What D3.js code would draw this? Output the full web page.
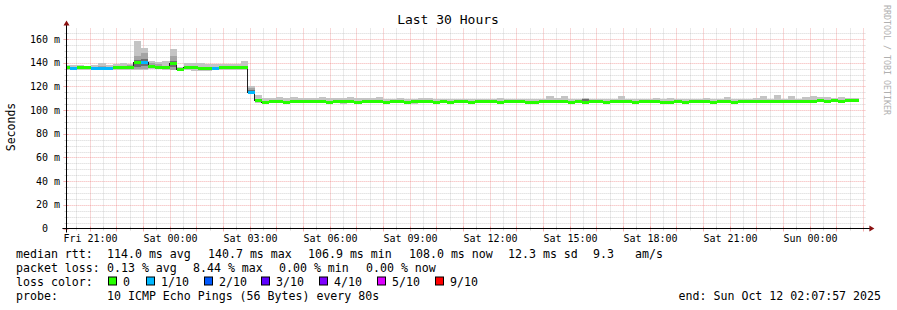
<!DOCTYPE html>
<html>
<head>
<meta charset="utf-8">
<script src="https://cdn.jsdelivr.net/npm/d3@7"></script>
<style>
  body { margin: 0; background: #fff; }
  text { font-family: "DejaVu Sans Mono", monospace; fill: #000; }
</style>
</head>
<body>
<div id="chart"></div>
<script>
'use strict';

// ---- data ----
var titleText = 'Last 30 Hours';
var startTime = new Date(Date.UTC(2025, 9, 10, 20, 7, 57));
var endTime = new Date(Date.UTC(2025, 9, 12, 2, 7, 57));
var firstBin = new Date(Date.UTC(2025, 9, 10, 20, 0, 0));
var binMinutes = 16;

var medianMs = [
  135.6, 134.8, 135.6, 135.6, 135.2, 135.2, 135.2, 135.6, 135.6, 135.6,
  140.0, 140.0, 136.5, 135.8, 135.6, 139.2, 134.4, 135.6, 135.6, 135.0,
  134.8, 135.2, 135.6, 135.6, 135.6, 135.6, 115.0, 107.7, 106.6, 107.0,
  107.4, 106.8, 107.0, 107.0, 107.2, 107.0, 107.0, 106.6, 107.0, 107.2,
  107.0, 106.6, 107.0, 107.0, 107.0, 106.8, 107.0, 107.0, 106.6, 107.0,
  107.4, 107.0, 106.8, 107.0, 106.8, 107.0, 107.0, 106.8, 107.0, 107.0,
  107.0, 106.8, 107.0, 107.0, 107.0, 106.8, 106.8, 107.0, 107.0, 107.2,
  107.0, 106.8, 107.0, 106.6, 107.0, 107.0, 106.8, 107.4, 107.0, 107.0,
  106.8, 107.0, 107.0, 107.0, 106.4, 106.6, 107.0, 106.4, 107.0, 107.0,
  107.0, 106.8, 107.0, 107.0, 106.8, 107.0, 107.0, 107.2, 107.0, 107.0,
  107.2, 107.0, 107.0, 107.0, 107.6, 107.6, 107.8, 107.6, 107.8, 107.6,
  107.8, 108.0
];

var lossTenths = [
  0, 1, 0, 0, 1, 1, 1, 0, 0, 0,
  0, 1, 0, 0, 0, 0, 0, 0, 0, 0,
  0, 1, 0, 0, 0, 0, 1, 0, 0, 0,
  0, 0, 0, 0, 0, 0, 0, 0, 0, 0,
  0, 0, 0, 0, 0, 0, 0, 0, 0, 0,
  0, 0, 0, 0, 0, 0, 0, 0, 0, 0,
  0, 0, 0, 0, 0, 0, 0, 0, 0, 0,
  0, 0, 0, 0, 0, 0, 0, 0, 0, 0,
  0, 0, 0, 0, 0, 0, 0, 0, 0, 0,
  0, 0, 0, 0, 0, 0, 0, 0, 0, 0,
  0, 0, 0, 0, 0, 0, 0, 0, 0, 0,
  0, 0
];

var smokeHi = [
  138.4, 138.4, 138.4, 137.6, 138.4, 139.8, 138.4, 139.2, 139.8, 139.2,
  158.3, 152.4, 141.5, 140.6, 141.5, 151.6, 136.6, 139.8, 139.8, 139.8,
  139.2, 139.2, 139.2, 139.2, 138.8, 141.3, 120.0, 112.8, 110.6, 110.6,
  111.1, 110.2, 111.1, 109.8, 109.8, 109.8, 111.1, 109.8, 109.8, 109.8,
  110.8, 109.8, 109.8, 109.8, 111.1, 109.5, 109.2, 109.8, 109.3, 109.3,
  109.8, 109.8, 109.5, 109.5, 109.6, 109.6, 109.6, 109.6, 109.6, 109.6,
  109.6, 110.6, 109.6, 109.6, 109.6, 109.6, 109.2, 109.2, 112.3, 110.6,
  111.5, 109.6, 109.6, 110.0, 109.6, 109.6, 109.2, 109.6, 111.5, 109.6,
  109.6, 109.6, 109.6, 110.6, 109.6, 110.6, 109.6, 109.6, 109.0, 109.0,
  110.6, 109.6, 109.6, 111.4, 109.6, 109.6, 109.6, 110.6, 112.3, 109.6,
  112.8, 109.6, 112.3, 109.6, 111.4, 112.3, 111.4, 111.4, 110.0, 111.4,
  110.6, 110.6
];

var smokeLo = [
  134.2, 133.8, 134.2, 134.2, 133.8, 133.8, 133.8, 134.2, 134.2, 134.2,
  134.0, 134.0, 135.0, 134.6, 134.2, 133.6, 133.0, 134.0, 133.4, 133.2,
  133.2, 133.8, 134.2, 134.2, 134.2, 134.2, 113.5, 106.0, 105.3, 105.8,
  106.0, 105.2, 105.8, 105.8, 105.6, 105.8, 105.8, 105.6, 105.8, 105.2,
  105.8, 105.2, 105.8, 105.8, 105.8, 105.6, 105.8, 105.8, 105.6, 105.2,
  106.0, 105.8, 105.6, 105.8, 105.6, 105.8, 105.8, 105.6, 105.8, 105.8,
  105.8, 105.6, 105.8, 105.8, 105.8, 105.6, 105.6, 105.8, 105.8, 106.0,
  105.8, 105.6, 105.8, 105.4, 105.8, 105.8, 105.6, 106.0, 105.8, 105.8,
  105.6, 105.8, 105.8, 105.8, 105.0, 105.4, 105.8, 105.0, 105.8, 105.8,
  105.8, 105.6, 105.8, 105.8, 105.6, 105.8, 105.8, 106.0, 105.8, 105.8,
  106.0, 105.8, 105.8, 105.8, 106.4, 106.4, 106.6, 106.4, 106.6, 106.4,
  106.6, 106.8
];

// inner smoke layers: [bin, low ms, high ms]
var midSmoke = [
  [5, 134.4, 137.4], [9, 134.4, 137.8], [10, 134.5, 146.0], [11, 134.5, 148.0],
  [12, 135.2, 139.5], [13, 135.0, 138.5], [15, 134.0, 145.4], [26, 114.0, 118.5]
];
var darkSmoke = [
  [10, 136.6, 142.6], [11, 137.0, 143.0], [15, 136.4, 141.8], [26, 114.5, 117.2],
  [73, 107.6, 109.4], [100, 107.6, 108.8]
];

var yTickValues = [0, 20, 40, 60, 80, 100, 120, 140, 160];
var rttLabel = 'median rtt:';
var rttStats = ['114.0 ms avg', '140.7 ms max', '106.9 ms min', '108.0 ms now', '12.3 ms sd', '9.3', 'am/s'];
var lossLabel = 'packet loss:';
var lossStats = ['0.13 % avg', '8.44 % max', '0.00 % min', '0.00 % now'];
var colorLabel = 'loss color:';
var lossLegendLabels = ['0', '1/10', '2/10', '3/10', '4/10', '5/10', '9/10'];
var lossLegendTenths = [0, 1, 2, 3, 4, 5, 9];
var probeLabel = 'probe:';
var probeText = '10 ICMP Echo Pings (56 Bytes) every 80s';
var endText = 'end: Sun Oct 12 02:07:57 2025';
var watermark = 'RRDTOOL / TOBI OETIKER';

// ---- styles / layout ----
var lossColors = {0: '#26ff00', 1: '#00b8ff', 2: '#0059ff', 3: '#5e00ff', 4: '#7e00ff', 5: '#dd00ff', 9: '#ff0000'};
var W = 897, H = 310;
var plot = {left: 66.4, right: 866.4, top: 28.5, bottom: 228.5};
var rttX = [107, 208, 308, 409, 508, 593, 635];
var lossX = [107, 193, 279, 366];
var boxX = [108, 146, 204, 261, 319, 377, 435];
var rowY = [257.5, 271.5, 285.5, 299.5];
var minorColor = 'rgba(150,150,150,0.4)';
var majorColor = 'rgba(235,110,110,0.55)';

var bins = medianMs.map(function(m, i) {
  var t0 = new Date(firstBin.getTime() + i * binMinutes * 60000);
  return {
    i: i,
    t0: t0,
    t1: new Date(t0.getTime() + binMinutes * 60000),
    median: m,
    loss: lossTenths[i],
    hi: smokeHi[i],
    lo: smokeLo[i]
  };
});

var x = d3.scaleUtc().domain([startTime, endTime]).range([plot.left, plot.right]);
var y = d3.scaleLinear().domain([0, 168.9]).range([plot.bottom, plot.top]);

var svg = d3.select('#chart').append('svg')
  .attr('width', W)
  .attr('height', H)
  .style('display', 'block');

svg.append('rect').attr('width', W).attr('height', H).attr('fill', '#fff');

var px = function(v) { return Math.round(v) + 0.5; };

// ---- grid ----
var grid = svg.append('g');
var minorY = d3.range(5, 169, 5).filter(function(v) { return v % 20 !== 0; });
var majorY = d3.range(20, 169, 20);
var minorX = d3.utcMinute.every(30).range(startTime, endTime).filter(function(d) { return d.getUTCMinutes() === 30; });
var majorX = d3.utcHour.range(startTime, endTime);

grid.selectAll('.minor-h').data(minorY).enter().append('line')
  .attr('x1', plot.left).attr('x2', plot.right)
  .attr('y1', function(d) { return px(y(d)); }).attr('y2', function(d) { return px(y(d)); })
  .attr('stroke', minorColor).attr('stroke-dasharray', '1,1');
grid.selectAll('.minor-v').data(minorX).enter().append('line')
  .attr('x1', function(d) { return px(x(d)); }).attr('x2', function(d) { return px(x(d)); })
  .attr('y1', plot.top).attr('y2', plot.bottom)
  .attr('stroke', minorColor).attr('stroke-dasharray', '1,1');
grid.selectAll('.major-h').data(majorY).enter().append('line')
  .attr('x1', plot.left).attr('x2', plot.right)
  .attr('y1', function(d) { return px(y(d)); }).attr('y2', function(d) { return px(y(d)); })
  .attr('stroke', majorColor).attr('stroke-dasharray', '1,1');
grid.selectAll('.major-v').data(majorX).enter().append('line')
  .attr('x1', function(d) { return px(x(d)); }).attr('x2', function(d) { return px(x(d)); })
  .attr('y1', plot.top).attr('y2', plot.bottom)
  .attr('stroke', majorColor).attr('stroke-dasharray', '1,1');

// ---- data marks ----
svg.append('clipPath').attr('id', 'clip').append('rect')
  .attr('x', plot.left).attr('y', plot.top)
  .attr('width', plot.right - plot.left).attr('height', plot.bottom - plot.top);

var marks = svg.append('g').attr('clip-path', 'url(#clip)');

marks.selectAll('.smoke').data(bins).enter().append('rect')
  .attr('x', function(d) { return x(d.t0); })
  .attr('width', function(d) { return x(d.t1) - x(d.t0); })
  .attr('y', function(d) { return y(d.hi); })
  .attr('height', function(d) { return y(d.lo) - y(d.hi); })
  .attr('fill', '#c4c4c4')
  .attr('shape-rendering', 'crispEdges');

function layer(list, color) {
  marks.selectAll(null).data(list).enter().append('rect')
    .attr('x', function(d) { return x(bins[d[0]].t0); })
    .attr('width', function(d) { return x(bins[d[0]].t1) - x(bins[d[0]].t0); })
    .attr('y', function(d) { return y(d[2]); })
    .attr('height', function(d) { return y(d[1]) - y(d[2]); })
    .attr('fill', color)
    .attr('shape-rendering', 'crispEdges');
}
layer(midSmoke, '#a4a4a4');
layer(darkSmoke, '#6e6e6e');

// median step line
var stepPts = bins.map(function(d) { return [x(d.t0), y(d.median)]; });
var last = bins[bins.length - 1];
stepPts.push([x(last.t1), y(last.median)]);
marks.append('path')
  .attr('d', d3.line().curve(d3.curveStepAfter)(stepPts))
  .attr('fill', 'none')
  .attr('stroke', '#202020')
  .attr('stroke-width', 1)
  .attr('shape-rendering', 'crispEdges');

// loss coloured median bars
marks.selectAll('.med').data(bins).enter().append('rect')
  .attr('x', function(d) { return x(d.t0); })
  .attr('width', function(d) { return x(d.t1) - x(d.t0); })
  .attr('y', function(d) { return y(d.median) - 1.5; })
  .attr('height', 3)
  .attr('fill', function(d) { return lossColors[d.loss]; })
  .attr('shape-rendering', 'crispEdges');

// ---- axes ----
var axes = svg.append('g');
axes.selectAll('.tx').data(minorX).enter().append('line')
  .attr('x1', function(d) { return px(x(d)); }).attr('x2', function(d) { return px(x(d)); })
  .attr('y1', plot.bottom - 2).attr('y2', plot.bottom + 2)
  .attr('stroke', minorColor);
axes.selectAll('.tX').data(majorX).enter().append('line')
  .attr('x1', function(d) { return px(x(d)); }).attr('x2', function(d) { return px(x(d)); })
  .attr('y1', plot.bottom - 2).attr('y2', plot.bottom + 3)
  .attr('stroke', majorColor);
axes.selectAll('.ty').data(minorY).enter().append('line')
  .attr('x1', plot.left - 2).attr('x2', plot.left + 2)
  .attr('y1', function(d) { return px(y(d)); }).attr('y2', function(d) { return px(y(d)); })
  .attr('stroke', minorColor);
axes.selectAll('.tY').data(yTickValues).enter().append('line')
  .attr('x1', plot.left - 3).attr('x2', plot.left + 2)
  .attr('y1', function(d) { return px(y(d)); }).attr('y2', function(d) { return px(y(d)); })
  .attr('stroke', majorColor);

axes.append('line')
  .attr('x1', plot.left - 4).attr('x2', plot.right + 4)
  .attr('y1', px(plot.bottom) - 1).attr('y2', px(plot.bottom) - 1)
  .attr('stroke', '#000');
axes.append('line')
  .attr('x1', px(plot.left)).attr('x2', px(plot.left))
  .attr('y1', plot.bottom + 4).attr('y2', plot.top - 4)
  .attr('stroke', '#000');
axes.append('path')
  .attr('d', 'M' + (plot.right + 3) + ',' + (px(plot.bottom) - 4) + 'L' + (plot.right + 8) + ',' + (px(plot.bottom) - 1) + 'L' + (plot.right + 3) + ',' + (px(plot.bottom) + 2) + 'Z')
  .attr('fill', '#8b1010');
axes.append('path')
  .attr('d', 'M' + (px(plot.left) - 3) + ',' + (plot.top - 3) + 'L' + px(plot.left) + ',' + (plot.top - 8) + 'L' + (px(plot.left) + 3) + ',' + (plot.top - 3) + 'Z')
  .attr('fill', '#8b1010');

// x labels
var fmt = d3.utcFormat('%a %H:%M');
axes.selectAll('.xl').data(d3.utcHour.every(3).range(startTime, endTime)).enter().append('text')
  .attr('x', function(d) { return x(d) + 1; })
  .attr('y', 241.5)
  .attr('text-anchor', 'middle')
  .style('font-size', '10px')
  .text(function(d) { return fmt(d); });

// y labels
axes.selectAll('.yl').data(yTickValues).enter().append('text')
  .attr('x', function(d) { return d === 0 ? 48 : 60; })
  .attr('y', function(d) { return y(d) + 3.5; })
  .attr('text-anchor', 'end')
  .style('font-size', '10px')
  .text(function(d) { return d === 0 ? '0' : d + ' m'; });

// titles
svg.append('text').attr('x', 448).attr('y', 24).attr('text-anchor', 'middle')
  .style('font-size', '13px').text(titleText);
svg.append('text').attr('transform', 'translate(15,127) rotate(-90)').attr('text-anchor', 'middle')
  .style('font-size', '11.5px').text('Seconds');
svg.append('text').attr('transform', 'translate(884,5) rotate(90)').attr('text-anchor', 'start')
  .style('font-size', '8.3px').style('fill', '#b0b0b0').text(watermark);

// ---- legend ----
var legend = svg.append('g').style('font-size', '11.6px');
legend.append('text').attr('x', 16).attr('y', rowY[0]).text(rttLabel);
rttStats.forEach(function(s, i) {
  legend.append('text').attr('x', rttX[i]).attr('y', rowY[0]).text(s);
});
legend.append('text').attr('x', 16).attr('y', rowY[1]).text(lossLabel);
lossStats.forEach(function(s, i) {
  legend.append('text').attr('x', lossX[i]).attr('y', rowY[1]).text(s);
});
legend.append('text').attr('x', 16).attr('y', rowY[2]).text(colorLabel);
lossLegendLabels.forEach(function(s, i) {
  legend.append('rect')
    .attr('x', boxX[i] + 0.5).attr('y', rowY[2] - 8.5)
    .attr('width', 8).attr('height', 8)
    .attr('fill', lossColors[lossLegendTenths[i]])
    .attr('stroke', '#000');
  legend.append('text').attr('x', boxX[i] + 15).attr('y', rowY[2]).text(s);
});
legend.append('text').attr('x', 16).attr('y', rowY[3]).text(probeLabel);
legend.append('text').attr('x', 107).attr('y', rowY[3]).text(probeText);
legend.append('text').attr('x', 881).attr('y', rowY[3]).attr('text-anchor', 'end').text(endText);
</script>
</body>
</html>
